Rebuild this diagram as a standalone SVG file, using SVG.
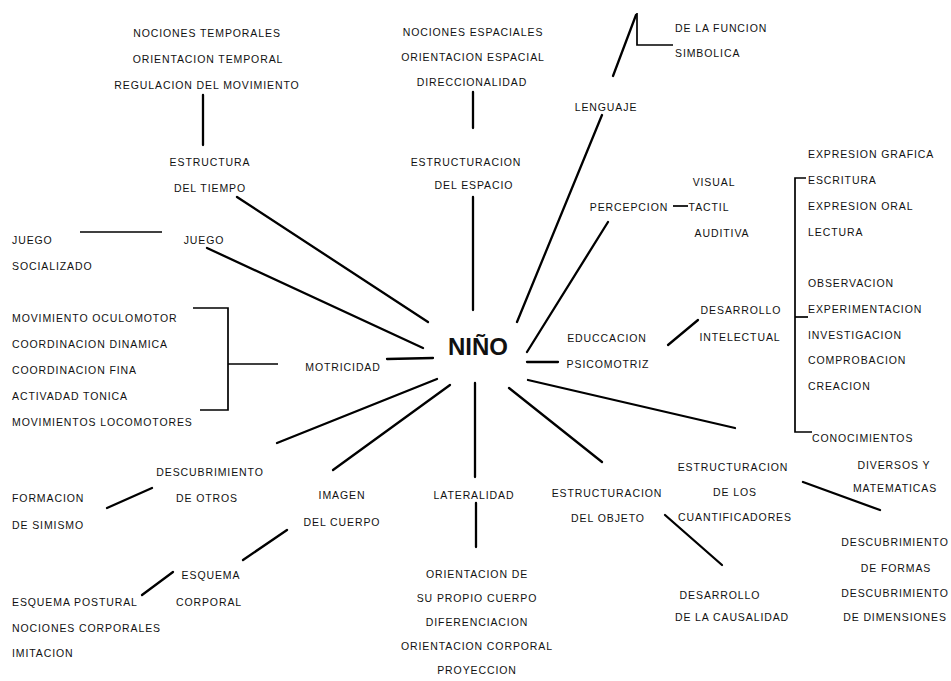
<svg xmlns="http://www.w3.org/2000/svg" width="951" height="681" viewBox="0 0 951 681">
<style>
text{font-family:"Liberation Sans",Arial,sans-serif;font-size:10.5px;letter-spacing:0.9px;fill:#111}
.c{text-anchor:middle}
.big{font-size:24px;font-weight:bold;letter-spacing:0}
.ln{stroke:#000;stroke-width:2.3;fill:none;stroke-linecap:round}
.thin{stroke:#000;stroke-width:1.7;fill:none}
</style>
<rect width="951" height="681" fill="#fff"/>
<g id="connectors">
<line class="ln" x1="203" y1="95" x2="203" y2="145"/>
<line class="ln" x1="237" y1="197" x2="428" y2="322"/>
<line class="ln" x1="473" y1="92" x2="473" y2="128"/>
<line class="ln" x1="473" y1="197" x2="473" y2="310"/>
<line class="ln" x1="517" y1="322" x2="602" y2="115"/>
<line class="ln" x1="613" y1="76" x2="636" y2="15"/>
<polyline class="thin" points="637,13 637,45 673,45"/>
<line class="ln" x1="608" y1="222" x2="527" y2="352"/>
<line class="thin" x1="673" y1="206" x2="688" y2="206"/>
<line class="ln" x1="527" y1="362" x2="558" y2="362"/>
<line class="ln" x1="668" y1="345" x2="698" y2="320"/>
<polyline class="thin" points="806,178 795,178 795,432 812,432"/>
<line class="thin" x1="795" y1="317" x2="808" y2="317"/>
<line class="ln" x1="528" y1="380" x2="735" y2="428"/>
<line class="ln" x1="803" y1="482" x2="880" y2="510"/>
<line class="ln" x1="509" y1="388" x2="602" y2="462"/>
<line class="ln" x1="665" y1="515" x2="722" y2="565"/>
<line class="ln" x1="475" y1="383" x2="475" y2="477"/>
<line class="ln" x1="476" y1="503" x2="476" y2="547"/>
<line class="ln" x1="450" y1="385" x2="333" y2="470"/>
<line class="ln" x1="437" y1="379" x2="277" y2="443"/>
<line class="ln" x1="107" y1="508" x2="152" y2="488"/>
<line class="ln" x1="243" y1="560" x2="287" y2="530"/>
<line class="ln" x1="142" y1="595" x2="173" y2="572"/>
<line class="ln" x1="387" y1="359" x2="433" y2="358"/>
<polyline class="thin" points="193,308 228,308 228,410 200,410"/>
<line class="thin" x1="228" y1="364" x2="278" y2="364"/>
<line class="ln" x1="207" y1="248" x2="423" y2="348"/>
<line class="thin" x1="80" y1="232" x2="162" y2="232"/>
</g>
<g id="nino"><text class="c big" x="478" y="355">NIÑO</text></g>
<g id="tiempo-items">
<text class="c" x="207" y="37">NOCIONES TEMPORALES</text>
<text class="c" x="208" y="63">ORIENTACION TEMPORAL</text>
<text class="c" x="207" y="89">REGULACION DEL MOVIMIENTO</text>
</g>
<g id="estructura-tiempo">
<text class="c" x="210" y="166">ESTRUCTURA</text>
<text class="c" x="210" y="192">DEL TIEMPO</text>
</g>
<g id="espacio-items">
<text class="c" x="473" y="36">NOCIONES ESPACIALES</text>
<text class="c" x="473" y="61">ORIENTACION ESPACIAL</text>
<text class="c" x="472" y="86">DIRECCIONALIDAD</text>
</g>
<g id="estructuracion-espacio">
<text class="c" x="466" y="166">ESTRUCTURACION</text>
<text class="c" x="474" y="189">DEL ESPACIO</text>
</g>
<g id="lenguaje"><text class="c" x="606" y="111">LENGUAJE</text></g>
<g id="funcion-simbolica">
<text x="675" y="32">DE LA FUNCION</text>
<text x="675" y="57">SIMBOLICA</text>
</g>
<g id="percepcion"><text class="c" x="629" y="211">PERCEPCION</text></g>
<g id="percepcion-items">
<text class="c" x="714" y="186">VISUAL</text>
<text class="c" x="709" y="211">TACTIL</text>
<text class="c" x="722" y="237">AUDITIVA</text>
</g>
<g id="educacion-psicomotriz">
<text class="c" x="607" y="342">EDUCCACION</text>
<text class="c" x="608" y="368">PSICOMOTRIZ</text>
</g>
<g id="desarrollo-intelectual">
<text class="c" x="741" y="314">DESARROLLO</text>
<text class="c" x="740" y="341">INTELECTUAL</text>
</g>
<g id="intelectual-items">
<text x="808" y="158">EXPRESION GRAFICA</text>
<text x="808" y="184">ESCRITURA</text>
<text x="808" y="210">EXPRESION ORAL</text>
<text x="808" y="236">LECTURA</text>
<text x="808" y="287">OBSERVACION</text>
<text x="808" y="313">EXPERIMENTACION</text>
<text x="808" y="339">INVESTIGACION</text>
<text x="808" y="364">COMPROBACION</text>
<text x="808" y="390">CREACION</text>
</g>
<g id="conocimientos">
<text x="812" y="442">CONOCIMIENTOS</text>
<text class="c" x="894" y="469">DIVERSOS Y</text>
<text class="c" x="895" y="492">MATEMATICAS</text>
</g>
<g id="cuantificadores">
<text class="c" x="733" y="471">ESTRUCTURACION</text>
<text class="c" x="735" y="496">DE LOS</text>
<text class="c" x="735" y="521">CUANTIFICADORES</text>
</g>
<g id="descubrimiento-formas">
<text class="c" x="895" y="546">DESCUBRIMIENTO</text>
<text class="c" x="896" y="572">DE FORMAS</text>
</g>
<g id="descubrimiento-dimensiones">
<text class="c" x="895" y="597">DESCUBRIMIENTO</text>
<text class="c" x="895" y="621">DE DIMENSIONES</text>
</g>
<g id="estructuracion-objeto">
<text class="c" x="607" y="497">ESTRUCTURACION</text>
<text class="c" x="608" y="522">DEL OBJETO</text>
</g>
<g id="causalidad">
<text class="c" x="720" y="599">DESARROLLO</text>
<text class="c" x="732" y="621">DE LA CAUSALIDAD</text>
</g>
<g id="lateralidad"><text class="c" x="474" y="499">LATERALIDAD</text></g>
<g id="lateralidad-items">
<text class="c" x="477" y="578">ORIENTACION DE</text>
<text class="c" x="477" y="602">SU PROPIO CUERPO</text>
<text class="c" x="477" y="626">DIFERENCIACION</text>
<text class="c" x="477" y="650">ORIENTACION CORPORAL</text>
<text class="c" x="477" y="674">PROYECCION</text>
</g>
<g id="imagen-cuerpo">
<text class="c" x="342" y="499">IMAGEN</text>
<text class="c" x="342" y="526">DEL CUERPO</text>
</g>
<g id="descubrimiento-otros">
<text class="c" x="210" y="476">DESCUBRIMIENTO</text>
<text class="c" x="207" y="502">DE OTROS</text>
</g>
<g id="formacion-simismo">
<text x="12" y="502">FORMACION</text>
<text x="12" y="529">DE SIMISMO</text>
</g>
<g id="esquema-corporal">
<text class="c" x="211" y="579">ESQUEMA</text>
<text class="c" x="209" y="606">CORPORAL</text>
</g>
<g id="esquema-items">
<text x="12" y="606">ESQUEMA POSTURAL</text>
<text x="12" y="632">NOCIONES CORPORALES</text>
<text x="12" y="657">IMITACION</text>
</g>
<g id="motricidad"><text class="c" x="343" y="371">MOTRICIDAD</text></g>
<g id="motricidad-items">
<text x="12" y="322">MOVIMIENTO OCULOMOTOR</text>
<text x="12" y="348">COORDINACION DINAMICA</text>
<text x="12" y="374">COORDINACION FINA</text>
<text x="12" y="400">ACTIVADAD TONICA</text>
<text x="12" y="426">MOVIMIENTOS LOCOMOTORES</text>
</g>
<g id="juego"><text class="c" x="204" y="244">JUEGO</text></g>
<g id="juego-socializado">
<text x="12" y="244">JUEGO</text>
<text x="12" y="270">SOCIALIZADO</text>
</g>
</svg>
